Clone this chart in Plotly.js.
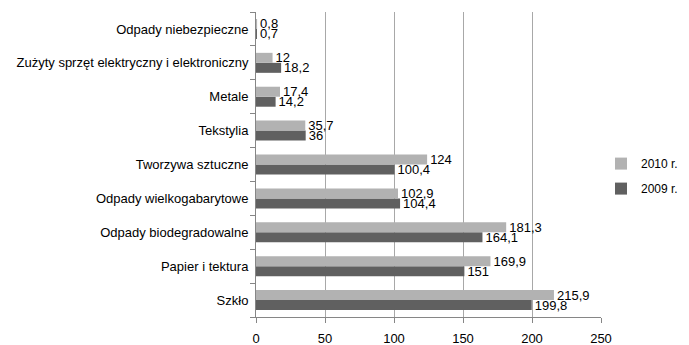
<!DOCTYPE html>
<html>
<head>
<meta charset="utf-8">
<script src="https://cdn.plot.ly/plotly-3.0.1.min.js"></script>
<style>
  html, body { margin: 0; padding: 0; background: #fff; }
  #chart { width: 689px; height: 345px; }
</style>
</head>
<body>
<div id="chart"></div>
<script>
// Waste categories, listed bottom to top as drawn on the axis
const categories = [
  'Szkło',
  'Papier i tektura',
  'Odpady biodegradowalne',
  'Odpady wielkogabarytowe',
  'Tworzywa sztuczne',
  'Tekstylia',
  'Metale',
  'Zużyty sprzęt elektryczny i elektroniczny',
  'Odpady niebezpieczne'
];

const values2009 = [199.8, 151, 164.1, 104.4, 100.4, 36, 14.2, 18.2, 0.7];
const values2010 = [215.9, 169.9, 181.3, 102.9, 124, 35.7, 17.4, 12, 0.8];

const xTickValues = [0, 50, 100, 150, 200, 250];

const FONT = '"Liberation Sans", Arial, sans-serif';

// Polish decimal comma for the value labels
const fmt = v => String(v).replace('.', ',');

function series(name, values, color, group, rank) {
  return {
    type: 'bar',
    orientation: 'h',
    name: name,
    legendgroup: group,
    legendrank: rank,
    y: categories,
    x: values,
    text: values.map(fmt),
    textposition: 'outside',
    cliponaxis: false,
    constraintext: 'none',
    textfont: { family: FONT, size: 13, color: '#000' },
    marker: { color: color, line: { width: 0 } },
    hoverinfo: 'none'
  };
}

const data = [
  series('2009 r.', values2009, '#606060', 'a', 2),
  series('2010 r.', values2010, '#b2b2b2', 'b', 1)
];

const layout = {
  width: 689,
  height: 345,
  margin: { l: 256, r: 88, t: 12, b: 28, pad: 0, autoexpand: false },
  paper_bgcolor: '#fff',
  plot_bgcolor: '#fff',
  font: { family: FONT, size: 12, color: '#000' },
  barmode: 'group',
  bargap: 0.41,
  bargroupgap: 0,
  showlegend: true,
  legend: {
    x: 1.0, xanchor: 'left',
    y: 0.462, yanchor: 'middle',
    traceorder: 'grouped',
    tracegroupgap: 6,
    font: { family: FONT, size: 12, color: '#000' },
    bgcolor: 'rgba(0,0,0,0)'
  },
  xaxis: {
    range: [0, 250],
    tickvals: xTickValues,
    ticktext: xTickValues.map(String),
    showgrid: true,
    gridcolor: '#a8a8a8',
    gridwidth: 1,
    zeroline: false,
    showline: true,
    linecolor: '#868686',
    linewidth: 1,
    ticks: 'outside',
    ticklen: 5,
    tickcolor: '#868686',
    ticklabelstandoff: 4,
    tickfont: { family: FONT, size: 13, color: '#000' },
    fixedrange: true
  },
  yaxis: {
    type: 'category',
    categoryorder: 'array',
    categoryarray: categories,
    showgrid: false,
    zeroline: false,
    showline: true,
    linecolor: '#868686',
    linewidth: 1,
    ticks: 'outside',
    tickson: 'boundaries',
    ticklen: 5,
    tickcolor: '#868686',
    ticklabelstandoff: 4,
    tickfont: { family: FONT, size: 13, color: '#000' },
    fixedrange: true
  }
};

Plotly.newPlot('chart', data, layout, { displayModeBar: false, staticPlot: true });
</script>
</body>
</html>
